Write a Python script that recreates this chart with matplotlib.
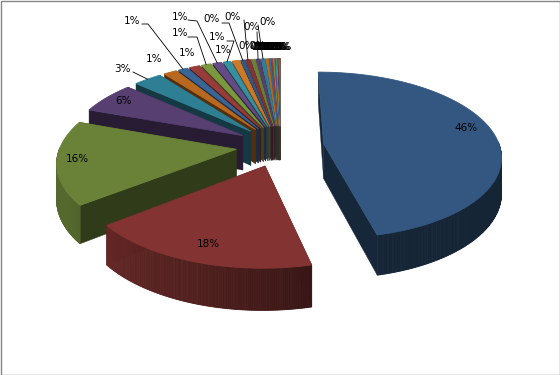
import numpy as np
import matplotlib
matplotlib.use("Agg")
import matplotlib.pyplot as plt
from matplotlib.patches import Polygon, Rectangle

# share of every slice in percent, clockwise from 12 o'clock
main_values = [46.2, 18.1, 16.1, 6.1, 3.0]
one_percent_values = [1.4, 1.0, 1.1, 1.0, 0.94, 0.78, 0.75]
zero_percent_values = [0.42, 0.47, 0.42, 0.42, 0.42, 0.25]
tail_values = [0.2, 0.15, 0.12, 0.1, 0.08, 0.06, 0.05, 0.04, 0.03, 0.02,
               0.02, 0.02, 0.02, 0.01, 0.01, 0.01, 0.01, 0.01, 0.01, 0.01]
values = main_values + one_percent_values + zero_percent_values + tail_values

# office palette, darker on every new round
palette = ["#335780", "#833432", "#6a8238", "#573f72", "#2f7f94", "#b9691f",
           "#3a6597", "#973c39", "#7b973f", "#654b85", "#37909f", "#cc7a28"]

# pie geometry in pixels
center_x, center_y = 280, 146
radius_x, radius_y = 176, 82
perspective = 0.138
explode = 0.25
depth = 35


# Disk coordinates (v points at the viewer) to picture pixels
def project(u, v, z=0):
    s = 1 / (1 - perspective * v)
    return center_x + u * radius_x * s, center_y + v * radius_y * s + z * depth * s


def disk_point(angle_deg, mid_deg, r=1.0):
    a, m = np.radians(angle_deg), np.radians(mid_deg)
    return r * np.sin(a) + explode * np.sin(m), -r * np.cos(a) - explode * np.cos(m)


def shade(color, factor):
    rgb = np.array(matplotlib.colors.to_rgb(color))
    return tuple(rgb * factor)


# Rim wall gets lighter going round to the left side
def rim_factor(angle):
    return np.interp(angle, [90, 165, 200, 240, 290], [0.42, 0.42, 0.62, 0.8, 0.8])


def add_poly(ax, points, color, lw=0.3):
    ax.add_patch(Polygon(points, closed=True, facecolor=color, edgecolor=color, linewidth=lw))


fig = plt.figure(figsize=(5.6, 3.75), dpi=100)
ax = fig.add_axes([0, 0, 1, 1])
ax.set_xlim(0, 560)
ax.set_ylim(375, 0)
ax.axis("off")

# outer frame of the chart
ax.add_patch(Rectangle((0.5, 0.5), 559, 374, facecolor="white", edgecolor="#868686", linewidth=1))

shares = np.array(values) / np.sum(values) * 360
ends = np.cumsum(shares)
starts = ends - shares
mids = (starts + ends) / 2

# Back slices first so the front ones paint over them
for i in np.argsort(-np.cos(np.radians(mids))):
    color = palette[i % len(palette)]
    steps = max(2, int(shares[i] * 2) + 2)
    angles = np.linspace(starts[i], ends[i], steps)
    apex_u, apex_v = disk_point(0, mids[i], 0)

    # the two straight walls
    for edge in sorted([starts[i], ends[i]], key=lambda a: -np.cos(np.radians(a))):
        u, v = disk_point(edge, mids[i])
        add_poly(ax, [project(apex_u, apex_v), project(u, v), project(u, v, 1), project(apex_u, apex_v, 1)],
                 shade(color, 0.45))

    # outer wall, only where it looks at the viewer
    segments = [(a0, a1) for a0, a1 in zip(angles[:-1], angles[1:])
                if np.cos(np.radians((a0 + a1) / 2)) <= 0.02]
    for a0, a1 in segments:
        u0, v0 = disk_point(a0, mids[i])
        u1, v1 = disk_point(a1, mids[i])
        add_poly(ax, [project(u0, v0), project(u1, v1), project(u1, v1, 1), project(u0, v0, 1)],
                 shade(color, rim_factor((a0 + a1) / 2)), lw=0.6)

    # top of the slice
    top = [project(apex_u, apex_v)] + [project(*disk_point(a, mids[i])) for a in angles]
    add_poly(ax, top, color, lw=0.6)

# label centres, None = no leader line
label_places = [(466, 128), (208, 244), (77, 159), (123, 101), (122, 69),
                (154, 59), (132, 21), (187, 53), (180, 33), (180, 17), (217, 37), (223, 50),
                (212, 19), (233, 17), (247, 46), (252, 27), (268, 22), (258, 46)]
leader_elbows = {4: (133, 72), 6: (148, 24), 8: (197, 37), 9: (197, 21), 10: (234, 41),
                 12: (229, 23), 13: (244, 20), 15: (257, 32), 16: (258, 25)}
leader_starts = {4: (133, 72), 6: (142, 24), 8: (188, 37), 9: (188, 20), 10: (227, 41),
                 12: (222, 23), 13: (244, 20), 15: (257, 32), 16: (258, 25)}
# the tail labels all pile up in one row
tail_row_start, tail_row_step, tail_row_y = 259, 1.3, 47

for i, value in enumerate(values):
    text = "%d%%" % round(value)
    if i < len(label_places):
        x, y = label_places[i]
    else:
        x, y = tail_row_start + (i - len(label_places)) * tail_row_step, tail_row_y
    ax.text(x, y, text, fontsize=7.5, ha="center", va="center", color="black")
    if i in leader_elbows:
        rim = project(*disk_point(mids[i], mids[i]))
        sx, sy = leader_starts[i]
        ex, ey = leader_elbows[i]
        ax.plot([sx, ex, rim[0]], [sy, ey, rim[1]], color="black", linewidth=0.6)

fig.savefig("out.png", dpi=100)
